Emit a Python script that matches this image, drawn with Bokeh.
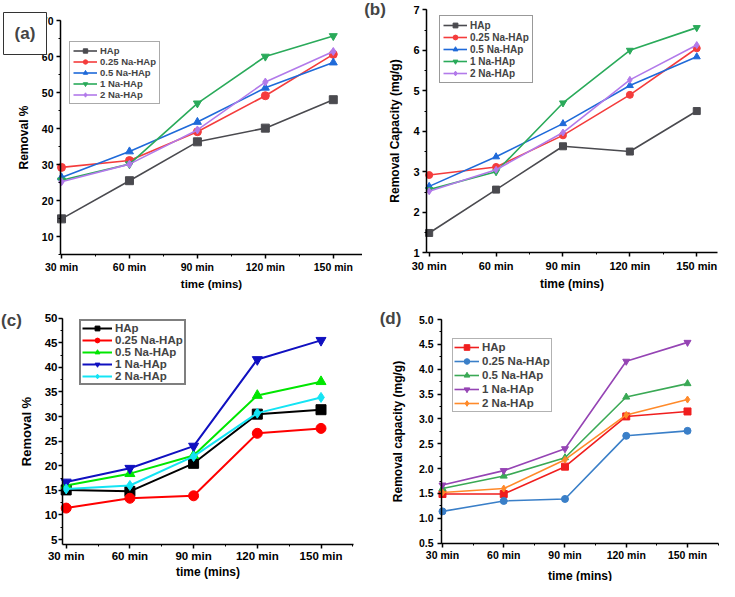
from bokeh.plotting import figure
from bokeh.layouts import column, row
from bokeh.models import (Range1d, FixedTicker, SingleIntervalTicker, Legend, LegendItem,
                          Label, NumeralTickFormatter, BasicTickFormatter, BoxAnnotation)
from bokeh.embed import file_html
from bokeh.resources import INLINE

FONT = "Liberation Sans"

times = ["30 min", "60 min", "90 min", "120 min", "150 min"]
series_names = ["HAp", "0.25 Na-HAp", "0.5 Na-HAp", "1 Na-HAp", "2 Na-HAp"]
markers = ["square", "circle", "triangle", "inverted_triangle", "diamond"]

# panel (a) Removal %
a_hap = [14.9, 25.5, 36.3, 40.1, 48.0]
a_025 = [29.2, 31.1, 39.1, 49.1, 60.6]
a_05 = [26.4, 33.6, 41.8, 51.3, 58.3]
a_1 = [25.6, 30.1, 47.0, 60.0, 65.7]
a_2 = [25.2, 30.1, 39.6, 52.9, 61.4]

# panel (b) Removal capacity (mg/g)
b_hap = [1.49, 2.56, 3.63, 3.50, 4.50]
b_025 = [2.92, 3.12, 3.90, 4.90, 6.05]
b_05 = [2.64, 3.37, 4.19, 5.13, 5.84]
b_1 = [2.56, 3.00, 4.70, 6.00, 6.56]
b_2 = [2.52, 3.05, 3.97, 5.27, 6.13]

# panel (c) Removal %
c_hap = [15.1, 14.8, 20.5, 30.5, 31.4]
c_025 = [11.4, 13.4, 13.9, 26.6, 27.6]
c_05 = [16.0, 18.4, 22.1, 34.3, 37.1]
c_1 = [16.7, 19.5, 24.0, 41.6, 45.5]
c_2 = [15.3, 16.0, 21.9, 30.7, 33.9]

# panel (d) Removal capacity (mg/g)
d_hap = [1.49, 1.49, 2.04, 3.05, 3.15]
d_025 = [1.14, 1.35, 1.39, 2.66, 2.76]
d_05 = [1.60, 1.85, 2.22, 3.44, 3.71]
d_1 = [1.67, 1.96, 2.40, 4.16, 4.54]
d_2 = [1.52, 1.60, 2.18, 3.08, 3.39]

ab_colors = ["#4a4a4f", "#f43c3c", "#1f6ad9", "#2aaa5a", "#b27aea"]
c_colors = ["#000000", "#ff0000", "#00e600", "#1010c0", "#14e4f4"]
d_colors = ["#f01e1e", "#3a7fc8", "#3aa955", "#9544b4", "#ff8a2a"]


def make_panel(W, H, box, x_range, y_range, y_interval, y_fmt, series, colors,
               msize, lw, y_label, tick_fs, xlab_fs, ylab_fs, xt_std, xl_std, yt_std, yl_std,
               leg_loc, leg_fs, leg_row, leg_pad, leg_gw, leg_bw, leg_bc,
               tag, tag_xy, tag_box=None):
    L, R, T, B = box  # plot area in canvas pixels (from top-left)
    x0, x1 = x_range
    y0, y1 = y_range
    ppx = (R - L) / (x1 - x0)
    ppy = (B - T) / (y1 - y0)
    xr = Range1d(x0 - L / ppx, x1 + (W - R) / ppx)
    yr = Range1d(y0 - (H - B) / ppy, y1 + T / ppy)
    p = figure(width=W, height=H, output_backend="svg", toolbar_location=None,
               x_range=xr, y_range=yr, title=None, min_border=0,
               min_border_left=0, min_border_right=0, min_border_top=0, min_border_bottom=0)
    p.outline_line_color = None
    p.grid.visible = False
    p.background_fill_color = "white"
    p.border_fill_color = "white"
    xs = list(range(len(times)))
    items = []
    for name, ys, col, mk in zip(series_names, series, colors, markers):
        l = p.line(xs, ys, line_color=col, line_width=lw)
        s = p.scatter(xs, ys, marker=mk, size=msize, fill_color=col, line_color=col)
        items.append(LegendItem(label=name, renderers=[l, s]))

    xa = p.xaxis[0]
    ya = p.yaxis[0]
    xa.fixed_location = y0
    ya.fixed_location = x0
    xa.bounds = (x0, x1)
    ya.bounds = (y0, y1)
    xa.ticker = FixedTicker(ticks=xs, minor_ticks=[i + 0.5 for i in xs])
    xa.major_label_overrides = {i: t for i, t in enumerate(times)}
    ya.ticker = SingleIntervalTicker(interval=y_interval, num_minor_ticks=2)
    ya.formatter = y_fmt
    for ax in (xa, ya):
        ax.axis_line_width = 1.5
        ax.axis_line_color = "black"
        ax.major_tick_line_width = 1.5
        ax.minor_tick_line_width = 1
        ax.major_tick_in = 0
        ax.major_tick_out = 4
        ax.minor_tick_in = 0
        ax.minor_tick_out = 2
        ax.major_label_text_font = FONT
        ax.major_label_text_font_style = "bold"
        ax.major_label_text_font_size = tick_fs
        ax.major_label_text_color = "black"
        ax.axis_label_text_font = FONT
        ax.axis_label_text_font_style = "bold"
        ax.axis_label_text_color = "black"
    xa.axis_label = "time (mins)"
    xa.axis_label_text_font_size = xlab_fs
    xa.major_label_standoff = xt_std
    xa.axis_label_standoff = xl_std
    ya.axis_label = y_label
    ya.axis_label_text_font_size = ylab_fs
    ya.major_label_standoff = yt_std
    ya.axis_label_standoff = yl_std

    leg = Legend(items=items, location=leg_loc, label_text_font=FONT,
                 label_text_font_style="bold", label_text_font_size=leg_fs,
                 label_height=leg_row, glyph_height=leg_row, glyph_width=leg_gw,
                 spacing=0, padding=leg_pad, margin=0, label_standoff=3,
                 border_line_color=leg_bc, border_line_width=leg_bw,
                 background_fill_color="white", background_fill_alpha=1)
    p.add_layout(leg)

    if tag_box is not None:
        bl, bt, br, bb = tag_box
        p.add_layout(BoxAnnotation(left=bl, right=br, top=H - bt, bottom=H - bb,
                                   left_units="screen", right_units="screen",
                                   top_units="screen", bottom_units="screen",
                                   fill_color="white", fill_alpha=1,
                                   line_color="#333333", line_width=1, line_alpha=1,
                                   level="overlay"))
    p.add_layout(Label(x=tag_xy[0], y=H - tag_xy[1], x_units="screen", y_units="screen",
                       text=tag, text_font=FONT, text_font_style="bold",
                       text_font_size="17px", text_align="center",
                       text_baseline="middle", level="overlay"))
    return p


pa = make_panel(362, 292, (60, 362, 20, 254), (-0.015, 4.43), (5, 70), 10, BasicTickFormatter(),
                [a_hap, a_025, a_05, a_1, a_2], ab_colors, 8, 1.6, "Removal %",
                "10.5px", "11.5px", "12px", 2, 2, 3, 8,
                (69, 188), "9.5px", 11, 3, 24, 1, "#555555",
                "(a)", (24.5, 33), tag_box=(3, 12, 46, 54))

pb = make_panel(357, 292, (64, 355, 9.3, 252.3), (-0.04, 4.31), (1, 7), 1, BasicTickFormatter(),
                [b_hap, b_025, b_05, b_1, b_2], ab_colors, 7, 1.6, "Removal Capacity (mg/g)",
                "11px", "12px", "12px", 3, 2, 3, 8,
                (77, 209), "10px", 12, 3, 24, 1, "#333333",
                "(b)", (12.5, 9))

pc = make_panel(362, 289, (62, 353, 25.7, 252), (-0.058, 4.51), (4.0, 50), 5, BasicTickFormatter(),
                [c_hap, c_025, c_05, c_1, c_2], c_colors, 10, 2, "Removal %",
                "11.5px", "12px", "13px", 1, 0, 1, 8,
                (79, 196), "11.5px", 12, 1, 30, 2, "#000000",
                "(c)", (11, 28))

pd_ = make_panel(357, 289, (79, 356, 27, 250.7), (-0.016, 4.506), (0.5, 5.0), 0.5,
                 NumeralTickFormatter(format="0.0"),
                 [d_hap, d_025, d_05, d_1, d_2], d_colors, 7, 1.6, "Removal capacity (mg/g)",
                 "10.5px", "12px", "12px", 2, 4, 4, 11,
                 (90, 169), "11.5px", 14, 1, 25, 1, "#666666",
                 "(d)", (28, 26))

layout = column(row(pa, pb, spacing=0), row(pc, pd_, spacing=0), spacing=0)

open("out.html", "w").write(file_html(layout, INLINE))
